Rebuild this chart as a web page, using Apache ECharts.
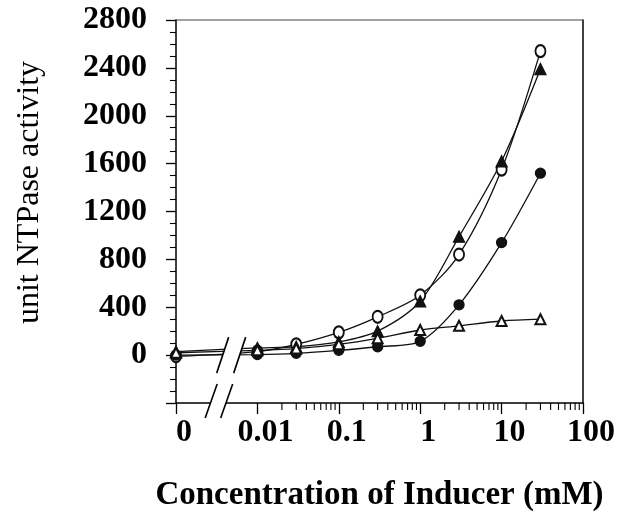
<!DOCTYPE html>
<html>
<head>
<meta charset="utf-8">
<script src="https://cdn.jsdelivr.net/npm/echarts@6/dist/echarts.min.js"></script>
<style>
  html, body { margin: 0; padding: 0; background: #fff; }
  #chart { width: 629px; height: 521px; }
</style>
</head>
<body>
<div id="chart"></div>
<script>
// concentration of inducer (mM); 0 is drawn at ZERO_POS on the log axis (axis break)
const concentrations = [0, 0.01, 0.03, 0.1, 0.3, 1, 3, 10, 30];
const ZERO_POS = 0.001;

const openCircle     = [-10, 30, 90, 190, 320, 500, 840, 1550, 2540];
const filledTriangle = [30, 60, 70, 110, 200, 450, 990, 1620, 2390];
const filledCircle   = [0, 5, 15, 40, 70, 115, 420, 940, 1520];
const openTriangle   = [20, 40, 55, 90, 140, 210, 245, 285, 300];

const xMinorDecades = [0.01, 0.1, 1, 10];

const FONT = '"Liberation Serif", "Times New Roman", serif';

function pairs(values) {
    return concentrations.map(function (c, i) {
        return [c === 0 ? ZERO_POS : c, values[i]];
    });
}

function lineSeries(name, values, symbol, size) {
    return {
        name: name,
        type: 'line',
        data: pairs(values),
        smooth: 0.3,
        symbol: symbol,
        symbolSize: size,
        showSymbol: true,
        lineStyle: { color: '#111', width: 1.3 },
        itemStyle: { color: '#111', borderColor: '#111', borderWidth: 1.3 },
        z: 3
    };
}

let chart = echarts.init(document.getElementById('chart'), null, { renderer: 'canvas' });

let option = {
    animation: false,
    backgroundColor: '#fff',
    grid: { left: 176, right: 46, top: 20, bottom: 118, containLabel: false },
    xAxis: {
        type: 'log',
        logBase: 10,
        min: ZERO_POS,
        max: 100,
        name: 'Concentration of Inducer (mM)',
        nameLocation: 'middle',
        nameGap: 76,
        nameTextStyle: { fontFamily: FONT, fontWeight: 'bold', fontSize: 33, color: '#000' },
        axisLine: { onZero: false, lineStyle: { color: '#000', width: 1.5 } },
        axisTick: { inside: false, length: 11, lineStyle: { color: '#000', width: 1.3 } },
        splitLine: { show: false },
        axisLabel: {
            margin: 14,
            padding: [0, 0, 0, 16],
            fontFamily: FONT, fontWeight: 'bold', fontSize: 32, color: '#000',
            formatter: function (v) {
                if (v < 0.0015) return '0';
                return String(+v.toPrecision(3));
            }
        }
    },
    yAxis: [{
        type: 'value',
        min: -400,
        max: 2800,
        interval: 400,
        name: 'unit NTPase activity',
        nameLocation: 'middle',
        nameGap: 130,
        nameTextStyle: { fontFamily: FONT, fontSize: 32, color: '#000', padding: [0, 0, 0, 38] },
        axisLine: { show: true, onZero: false, lineStyle: { color: '#000', width: 1.5 } },
        axisTick: { show: true, length: 10, lineStyle: { color: '#000', width: 1.3 } },
        minorTick: { show: true, splitNumber: 4, length: 6, lineStyle: { color: '#000', width: 1.1 } },
        splitLine: { show: false },
        axisLabel: {
            margin: 29,
            fontFamily: FONT, fontWeight: 'bold', fontSize: 32, color: '#000',
            formatter: function (v) { return v < 0 ? '' : String(v); }
        }
    }, {
        type: 'value',
        min: -400,
        max: 2800,
        position: 'right',
        axisLine: { show: true, onZero: false, lineStyle: { color: '#000', width: 1.5 } },
        axisTick: { show: false },
        axisLabel: { show: false },
        splitLine: { show: false }
    }],
    series: [
        lineSeries('open circle', openCircle, 'emptyCircle', [10, 12]),
        lineSeries('filled triangle', filledTriangle, 'triangle', 11),
        lineSeries('filled circle', filledCircle, 'circle', 10),
        lineSeries('open triangle', openTriangle, 'emptyTriangle', 10)
    ]
};
chart.setOption(option);

// top frame line, minor log ticks and the axis-break marks
function drawDecorations() {
    let elements = [];
    let yBottom = chart.convertToPixel({ yAxisIndex: 0 }, -400);
    let yTop = chart.convertToPixel({ yAxisIndex: 0 }, 2800);
    let yZero = chart.convertToPixel({ yAxisIndex: 0 }, 0);
    let xLeft = chart.convertToPixel({ xAxisIndex: 0 }, ZERO_POS);
    let xRight = chart.convertToPixel({ xAxisIndex: 0 }, 100);

    elements.push({
        type: 'line',
        shape: { x1: xLeft, y1: yTop, x2: xRight, y2: yTop },
        style: { stroke: '#444', lineWidth: 1.2 },
        z: 50
    });

    xMinorDecades.forEach(function (d) {
        for (let k = 2; k <= 9; k++) {
            let x = chart.convertToPixel({ xAxisIndex: 0 }, d * k);
            elements.push({
                type: 'line',
                shape: { x1: x, y1: yBottom, x2: x, y2: yBottom + 7 },
                style: { stroke: '#000', lineWidth: 1.1 },
                z: 50
            });
        }
    });

    // break sits between 0 and 0.01 on the axis
    let xb = chart.convertToPixel({ xAxisIndex: 0 }, 0.0045);
    function breakPair(y1, y2, dx, gap) {
        let slope = 12;   // horizontal lean of each slash
        let a1 = [xb + dx + slope / 2, y1], a2 = [xb + dx - slope / 2, y2];
        let b1 = [a1[0] + gap, y1], b2 = [a2[0] + gap, y2];
        elements.push({
            type: 'polygon',
            shape: { points: [a1, b1, b2, a2] },
            style: { fill: '#fff' },
            z: 60
        });
        [[a1, a2], [b1, b2]].forEach(function (p) {
            elements.push({
                type: 'line',
                shape: { x1: p[0][0], y1: p[0][1], x2: p[1][0], y2: p[1][1] },
                style: { stroke: '#000', lineWidth: 1.6 },
                z: 61
            });
        });
    }
    breakPair(yZero - 18, yZero + 18, -6.5, 17);
    breakPair(yBottom - 19, yBottom + 15, -18, 15.5);

    chart.setOption({ graphic: { elements: elements } });
}
drawDecorations();
</script>
</body>
</html>
